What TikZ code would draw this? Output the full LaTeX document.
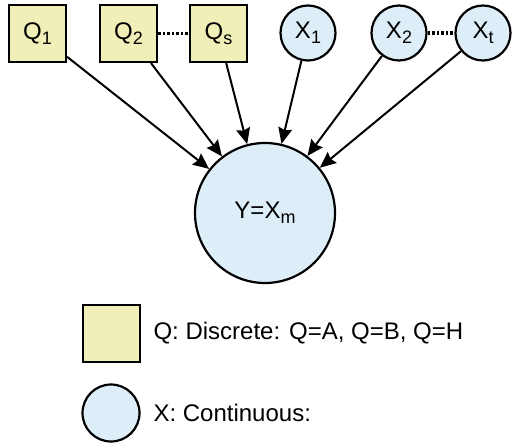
\documentclass[tikz,border=0pt]{standalone}
\usepackage{fontspec}
\setmainfont{Liberation Sans}
\usetikzlibrary{arrows.meta}
\definecolor{qfill}{RGB}{239,239,183}
\definecolor{xfill}{RGB}{222,238,248}
\newcommand{\sbs}[1]{\raisebox{-0.4ex}{\fontsize{18}{18}\selectfont #1}}
\tikzset{
  qbox/.style={draw=black, line width=2.2pt, fill=qfill, minimum size=57pt, inner sep=0pt},
  xcirc/.style={draw=black, line width=2.2pt, fill=xfill, circle, minimum size=55pt, inner sep=0pt},
  arr/.style={line width=2pt, -{Stealth[length=16pt,width=14pt,inset=2pt]}},
  dots/.style={line width=3.5pt, dash pattern=on 2.5pt off 2pt},
  lbl/.style={font=\fontsize{24}{29}\selectfont}
}
\begin{document}
\begin{tikzpicture}[x=1pt,y=-1pt]
\useasboundingbox (0,0) rectangle (516,446);
\node[qbox,lbl] (q1) at (37.5,33.5) {Q\sbs{1}};
\node[qbox,lbl] (q2) at (128.5,33.5) {Q\sbs{2}};
\node[qbox,lbl] (qs) at (218.5,33.5) {Q\sbs{s}};
\node[xcirc,lbl] (x1) at (308,33) {X\sbs{1}};
\node[xcirc,lbl] (x2) at (399,33) {X\sbs{2}};
\node[xcirc,lbl] (xt) at (483,33) {X\sbs{t}};
\node[xcirc,lbl,minimum size=140pt] (y) at (265,213) {Y=X\sbs{m}};
\draw[dots] (q2) -- (qs);
\draw[dots] (x2) -- (xt);
\foreach \n in {q1,q2,qs,x1,x2,xt} \draw[arr] (\n) -- (y);
\node[qbox] (legq) at (111.5,333.5) {};
\node[xcirc,minimum size=57pt] (legx) at (111,413) {};
\node[lbl,anchor=west] (tq) at (150,333.5) {Q: Discrete: Q=A, Q=B, Q=H};
\node[lbl,anchor=west] (tx) at (150,413) {X: Continuous:};
\end{tikzpicture}
\end{document}
